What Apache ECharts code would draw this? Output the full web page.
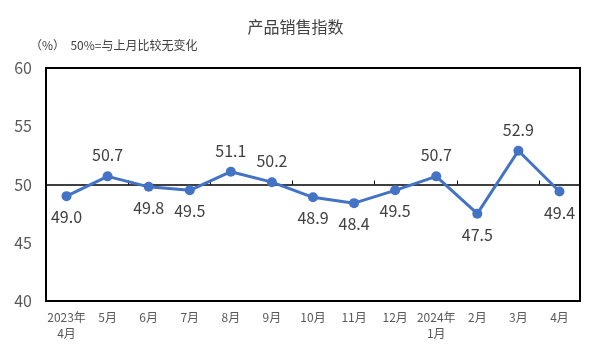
<!DOCTYPE html>
<html>
<head>
<meta charset="utf-8">
<script src="https://cdn.jsdelivr.net/npm/echarts@6/dist/echarts.min.js"></script>
<style>html,body{margin:0;padding:0;background:#fff}#main{width:591px;height:354px}</style>
</head>
<body>
<div id="main"></div>
<script>
var months = ['2023年\n4月', '5月', '6月', '7月', '8月', '9月', '10月', '11月', '12月', '2024年\n1月', '2月', '3月', '4月'];
var salesIndex = [49.0, 50.7, 49.8, 49.5, 51.1, 50.2, 48.9, 48.4, 49.5, 50.7, 47.5, 52.9, 49.4];
var labelPos = ['bottom', 'top', 'bottom', 'bottom', 'top', 'top', 'bottom', 'bottom', 'bottom', 'top', 'bottom', 'top', 'bottom'];

var font = '"Noto Sans CJK SC", "Noto Sans", sans-serif';
var gridTop = 68, gridBottom = 53, chartH = 354;
var midOffset = -(chartH - gridTop - gridBottom) / 2;

var myChart = echarts.init(document.getElementById('main'));
myChart.setOption({
    animation: false,
    textStyle: { fontFamily: font },
    title: {
        text: '产品销售指数',
        left: 'center',
        top: 14,
        textStyle: { fontSize: 16, fontWeight: 'normal', color: '#404040', fontFamily: font }
    },
    graphic: [{
        type: 'text',
        left: 30,
        top: 39,
        style: { text: '（%）  50%=与上月比较无变化', fontSize: 12, fill: '#404040', fontFamily: font }
    }],
    grid: {
        left: 46, right: 11, top: gridTop, bottom: gridBottom,
        show: true, borderColor: '#000', borderWidth: 2
    },
    xAxis: [{
        type: 'category',
        data: months,
        axisLine: { show: false },
        axisTick: { show: false },
        axisLabel: { color: '#595959', fontSize: 12, interval: 0, lineHeight: 16, margin: 8 }
    }, {
        type: 'category',
        data: months,
        position: 'bottom',
        offset: midOffset,
        axisLine: { show: true, lineStyle: { color: '#000', width: 1.5 } },
        axisTick: { show: true, inside: true, length: 4, lineStyle: { color: '#000' } },
        axisLabel: { show: false }
    }],
    yAxis: {
        type: 'value',
        min: 40, max: 60, interval: 5,
        splitLine: { show: false },
        axisLine: { show: false },
        axisTick: { show: false },
        axisLabel: { color: '#595959', fontSize: 16, margin: 14 }
    },
    series: [{
        type: 'line',
        data: salesIndex.map(function (v, i) {
            return { value: v, label: { position: labelPos[i] } };
        }),
        symbol: 'circle',
        symbolSize: 10,
        lineStyle: { color: '#4472C4', width: 3 },
        itemStyle: { color: '#4472C4' },
        label: {
            show: true,
            formatter: function (p) { return p.value.toFixed(1); },
            fontSize: 16,
            color: '#404040',
            distance: 8
        }
    }]
});
</script>
</body>
</html>
